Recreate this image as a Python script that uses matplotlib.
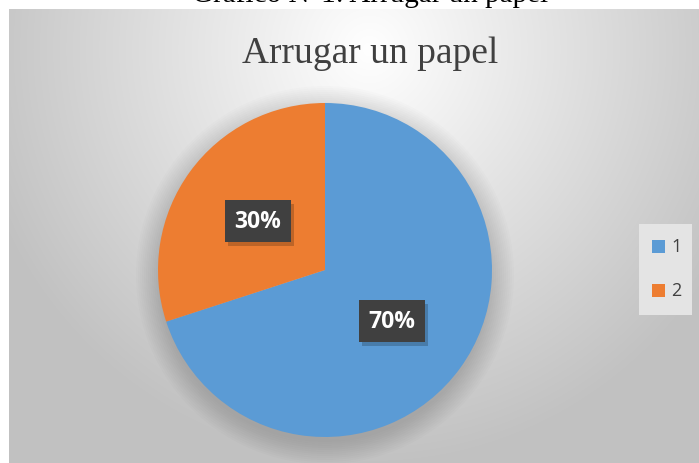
import numpy as np
import matplotlib.pyplot as plt
from matplotlib.patches import Circle, Rectangle

categorias = ["1", "2"]
valores = [70, 30]
colores = ["#5b9bd5", "#ed7d31"]
titulo = "Arrugar un papel"
titulo_doc = "Gráfico N°1: Arrugar un papel"

fig = plt.figure(figsize=(6.99, 4.64), dpi=100)

# fondo del grafico con degradado radial
bg = fig.add_axes([9 / 699, 0, 1 - 9 / 699, 1 - 10 / 464])
yy, xx = np.mgrid[0:454, 0:690]
d = np.sqrt(((xx - 360) / 420.0) ** 2 + ((yy - 40) / 430.0) ** 2)
g = np.clip(1.0 - 0.25 * d, 0.76, 1.0)
img = np.dstack([g, g, g])
bg.imshow(img, aspect="auto", extent=(0, 1, 0, 1), origin="upper")
bg.set_xlim(0, 1)
bg.set_ylim(0, 1)
bg.axis("off")

fig.text(0.53, 1.0 - 2 / 464, titulo_doc, family="Liberation Serif", fontsize=21,
         ha="center", va="baseline", color="black")
fig.text(370 / 699, 1 - 54 / 464, titulo, family="Liberation Serif", fontsize=27,
         ha="center", va="center", color="#404040")

r_px = 167
ax = fig.add_axes([(325 - r_px) / 699, 1 - (271 + r_px) / 464, 2 * r_px / 699, 2 * r_px / 464])

# sombra suave
for i in range(12):
    ax.add_patch(Circle((0, -0.03), 1.0 + 0.012 * i, color="black", alpha=0.012, lw=0,
                        zorder=0, clip_on=False))

wedges, _ = ax.pie(valores, colors=colores, startangle=90, counterclock=False, radius=1,
                   wedgeprops=dict(linewidth=0))
for w in wedges:
    w.set_zorder(2)
ax.set_xlim(-1, 1)
ax.set_ylim(-1, 1)
ax.axis("off")

etiquetas = ["%d%%" % v for v in valores]
pos = [(392, 322), (258, 222)]
textos = []
for (px, py), t in zip(pos, etiquetas):
    textos.append(fig.text(px / 699, 1 - py / 464, t, ha="center", va="center", fontsize=16.5,
                           family="Open Sans", weight="bold", color="white", zorder=5,
                           bbox=dict(boxstyle="square,pad=0.4", fc="#404040", ec="none")))

# sombra de las etiquetas
fig.canvas.draw()
inv = fig.transFigure.inverted()
for t in textos:
    bb = t.get_bbox_patch().get_window_extent()
    (x0, y0), (x1, y1) = inv.transform([[bb.x0 + 3, bb.y0 - 4], [bb.x1 + 3, bb.y1 - 4]])
    fig.add_artist(Rectangle((x0, y0), x1 - x0, y1 - y0, transform=fig.transFigure,
                             fc=(0, 0, 0, 0.2), ec="none", zorder=4))

# leyenda
lx0, ly0, lw, lh = 639, 225, 53, 91
leg = fig.add_axes([lx0 / 699, 1 - (ly0 + lh) / 464, lw / 699, lh / 464])
leg.set_facecolor("#e4e4e4")
leg.set_xlim(0, lw)
leg.set_ylim(lh, 0)
leg.set_xticks([])
leg.set_yticks([])
for s in leg.spines.values():
    s.set_visible(False)
for i, (c, col) in enumerate(zip(categorias, colores)):
    y = 22 + i * 44
    leg.add_patch(plt.Rectangle((13, y - 6.5), 13, 13, color=col, lw=0))
    leg.text(32, y, c, va="center", ha="left", fontsize=13, family="Open Sans", color="#404040")

fig.savefig("out.png", dpi=100)
